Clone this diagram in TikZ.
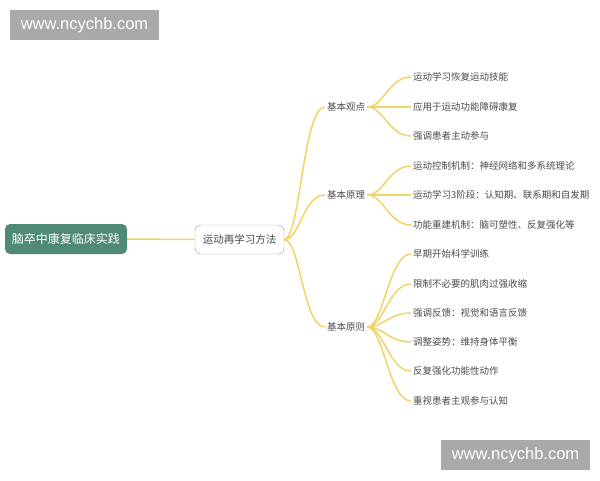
\documentclass[tikz,border=0pt]{standalone}
\usepackage{fontspec}
\setmainfont{Noto Sans CJK SC}
\newfontfamily\webfont{Liberation Sans}
\usetikzlibrary{positioning,calc}

\definecolor{rootgreen}{HTML}{4F8A77}
\definecolor{branchyellow}{HTML}{F1D466}
\definecolor{labelgray}{HTML}{4A4A4A}
\definecolor{markgray}{HTML}{A9A9A9}
\definecolor{hubborder}{HTML}{9A9A9A}

\tikzset{
    rootbox/.style={fill=rootgreen, rounded corners=5pt, text=white, minimum width=122, minimum height=30, inner sep=0pt, font=\fontsize{12}{14}\selectfont},
    hubbox/.style={draw=hubborder, fill=white, rounded corners=6pt, text=labelgray, minimum width=89, minimum height=29, inner sep=0pt, font=\fontsize{10.5}{13}\selectfont},
    topic/.style={text=labelgray, anchor=west, inner sep=2pt, font=\fontsize{9.5}{12}\selectfont},
    leaf/.style={text=labelgray, anchor=west, inner sep=2pt, font=\fontsize{9.5}{12}\selectfont},
    sitemark/.style={fill=markgray, text=white, minimum width=149, minimum height=30, inner sep=0pt, font=\webfont\fontsize{16.5}{19}\selectfont},
    branch/.style={draw=branchyellow, line width=1.5pt},
}

\newcommand{\branchto}[2]{\draw[branch] (#1) .. controls ($(#1)+(16,0)$) and ($(#2)+(-22,0)$) .. (#2);}

\begin{document}
\begin{tikzpicture}[x=1pt,y=-1pt]
    \useasboundingbox (0,0) rectangle (600,480);

    \node[sitemark] (marktop) at (84.5,25) {www.ncychb.com};
    \node[sitemark] (markbottom) at (515.5,455) {www.ncychb.com};

    \node[rootbox] (root) at (66,239) {脑卒中康复临床实践};
    \node[hubbox] (hub) at (239.5,239.5) {运动再学习方法};
    \draw[branch] (root.east) -- (hub.west);

    % topics
    \node[topic] (views) at (325,107) {基本观点};
    \node[topic] (basis) at (325,195) {基本原理};
    \node[topic] (rules) at (325,327) {基本原则};

    \branchto{hub.east}{views.west}
    \branchto{hub.east}{basis.west}
    \branchto{hub.east}{rules.west}

    % leaves
    \node[leaf] (v1) at (411,77) {运动学习恢复运动技能};
    \node[leaf] (v2) at (411,107) {应用于运动功能障碍康复};
    \node[leaf] (v3) at (411,136) {强调患者主动参与};

    \node[leaf] (b1) at (411,166) {运动控制机制：神经网络和多系统理论};
    \node[leaf] (b2) at (411,195) {运动学习3阶段：认知期、联系期和自发期};
    \node[leaf] (b3) at (411,225) {功能重建机制：脑可塑性、反复强化等};

    \node[leaf] (r1) at (411,254) {早期开始科学训练};
    \node[leaf] (r2) at (411,284) {限制不必要的肌肉过强收缩};
    \node[leaf] (r3) at (411,313) {强调反馈：视觉和语言反馈};
    \node[leaf] (r4) at (411,342) {调整姿势：维持身体平衡};
    \node[leaf] (r5) at (411,371) {反复强化功能性动作};
    \node[leaf] (r6) at (411,401) {重视患者主观参与认知};

    \foreach \t in {v1,v2,v3} {\branchto{views.east}{\t.west}}
    \foreach \t in {b1,b2,b3} {\branchto{basis.east}{\t.west}}
    \foreach \t in {r1,r2,r3,r4,r5,r6} {\branchto{rules.east}{\t.west}}
\end{tikzpicture}
\end{document}
